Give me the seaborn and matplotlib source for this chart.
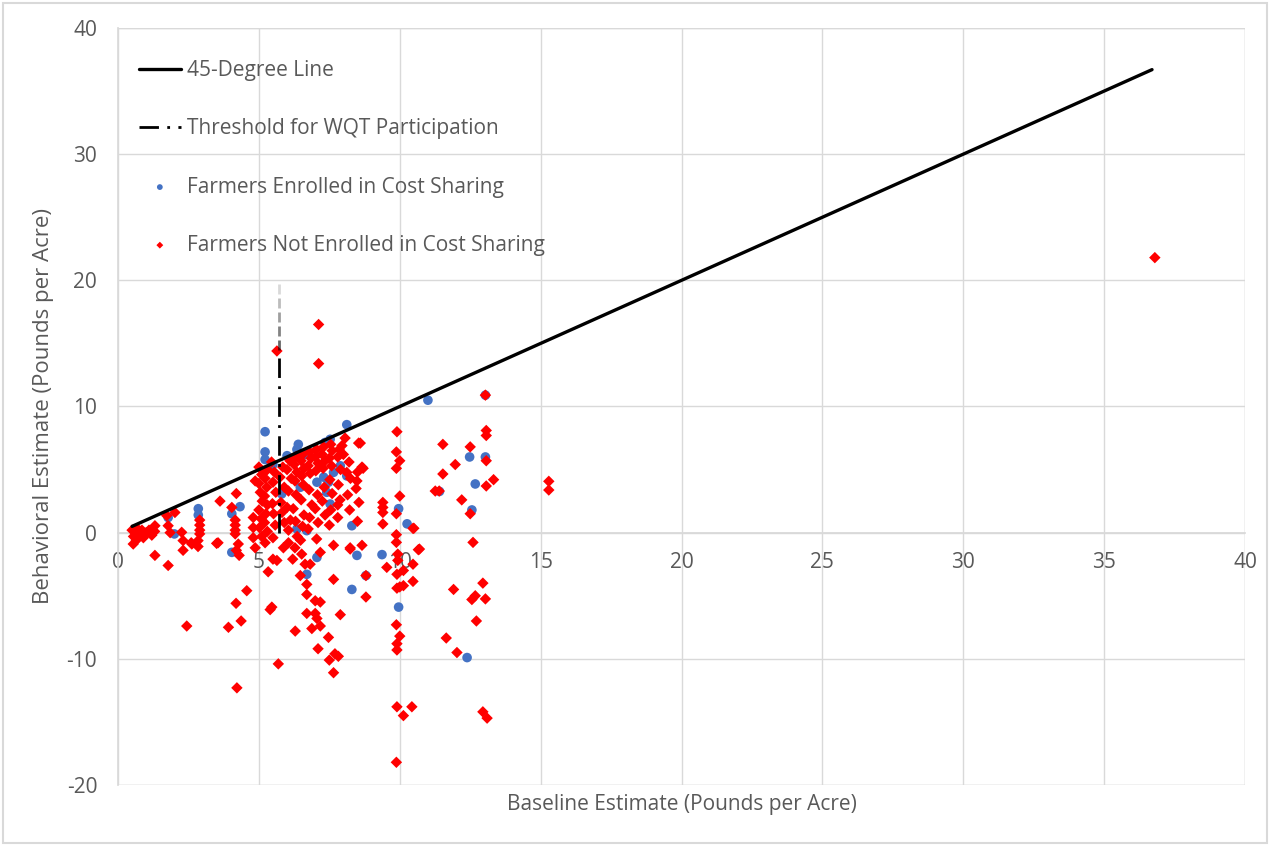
import numpy as np
import pandas as pd
import matplotlib
matplotlib.use("Agg")
import matplotlib.pyplot as plt
import seaborn as sns

# ---------------- data ----------------
enrolled_x = [1.78, 2.0, 2.85, 2.85, 4.04, 4.33, 4.04, 5.22, 5.22, 5.22, 6.0, 6.4, 6.64, 6.35,
              7.35, 7.53, 8.12, 7.89, 7.65, 7.47, 7.41, 7.53, 5.81, 8.12, 6.35, 8.3, 6.47, 6.7,
              6.7, 7.06, 8.48, 8.3, 8.8, 9.37, 9.96, 9.96, 10.26, 11.0, 13.04, 11.41, 12.48,
              12.68, 12.56, 13.04, 12.39, 7.06, 7.3, 5.5]
enrolled_y = [1.2, -0.1, 1.9, 1.4, 1.5, 2.06, -1.56, 8.0, 6.4, 5.8, 6.1, 7.0, 6.2, 6.6,
              7.15, 7.4, 8.56, 5.3, 4.78, 4.0, 3.2, 2.27, 3.07, 4.5, 0.29, 0.55, 3.6, -3.3,
              0.16, -1.96, -1.8, -4.5, -3.4, -1.74, 1.9, -5.9, 0.7, 10.5, 10.9, 3.27, 6.0,
              3.86, 1.8, 6.0, -9.9, 4.0, 4.4, 5.4]

# not enrolled: scattered points
not_enrolled_x = [0.5, 0.55, 0.6, 0.65, 0.7, 0.8, 0.85, 0.9, 1.0, 1.1, 1.2, 1.3, 0.54, 1.31, 1.73,
                  2.02, 1.78, 1.85, 2.26, 2.31, 2.62, 2.84, 2.9, 2.9, 2.9, 2.9, 3.55, 3.62, 4.2,
                  4.04, 4.16, 4.16, 4.16, 4.16, 4.27, 4.87, 4.8, 4.8, 4.8, 4.87,
                  1.31, 1.78, 2.31, 2.6, 2.84, 3.5, 2.44, 3.92, 4.19, 4.37, 4.57, 4.22, 4.2, 4.3,
                  5.33, 5.64, 5.46, 5.4, 5.69, 6.2, 6.29, 6.47, 6.7, 6.7, 6.7, 6.88, 7.0, 7.18,
                  7.0, 7.06, 7.18, 7.1, 7.47, 7.5, 7.7, 7.82, 7.65, 7.89, 7.65, 8.8, 8.8, 9.54,
                  9.9, 9.9, 9.88, 10.0, 9.9, 9.9, 9.9, 10.13, 10.43, 9.88, 10.47, 10.13, 10.66,
                  8.24, 8.66, 5.87, 5.5, 6.05, 6.28, 6.52, 6.64, 6.82, 7.18, 7.65,
                  9.9, 9.88, 10.0, 9.88, 10.0, 9.88, 10.47, 9.88, 9.88, 9.93, 9.93, 10.47, 10.13,
                  10.0, 9.4, 9.4, 9.4, 9.4, 8.6, 8.7, 11.53, 11.53, 11.26, 11.97, 12.2, 12.5,
                  12.5, 13.07, 13.07, 13.07, 13.07, 13.33, 13.04, 12.6, 11.91, 12.56, 12.68,
                  12.95, 13.04, 12.72, 11.65, 12.03, 12.95, 13.1, 15.29, 15.29, 36.8, 7.12, 5.64,
                  7.12, 8.06, 8.54, 7.95, 8.0, 8.12, 8.66, 8.48, 7.8, 10.5, 10.7, 8.24, 11.4]
not_enrolled_y = [0.2, -0.3, 0.1, -0.6, 0.3, -0.1, 0.2, -0.4, 0.0, 0.2, -0.2, 0.1, -0.9, 0.55, 1.35,
                  1.6, 0.55, 0.0, 0.03, -0.63, -0.9, -0.63, 1.0, 0.6, 0.2, -0.1, -0.8, 2.5, 3.1,
                  2.0, 1.0, 0.6, 0.2, -0.1, -0.9, 4.1, 1.2, 0.4, -0.4, -1.2,
                  -1.8, -2.6, -1.4, -0.8, -1.1, -0.85, -7.4, -7.5, -5.6, -7.0, -4.6, -12.3, -1.4, -1.8,
                  -3.1, -2.2, -5.9, -6.1, -10.4, -2.1, -7.8, -3.4, -4.1, -4.9, -6.4, -7.6, -5.4, -5.5,
                  -6.4, -6.8, -7.4, -9.2, -8.3, -10.1, -9.6, -9.8, -11.1, -6.5, -3.7, -3.4, -5.1, -2.75,
                  -3.3, -4.4, -7.3, -8.2, -8.8, -9.3, -13.8, -14.5, -13.8, -18.2, -3.86, -4.2, -1.35,
                  -1.2, -1.0, -1.2, -2.1, -0.8, -1.2, -1.7, -2.5, -2.5, -1.56, -1.0,
                  8.0, 6.4, 5.7, 5.1, 2.9, 1.5, 0.34, -0.16, -0.77, -1.7, -2.2, -2.5, -3.0,
                  -4.3, 2.4, 2.0, 1.6, 0.69, 7.1, 5.1, 7.0, 4.65, 3.3, 5.4, 2.6, 6.8,
                  1.5, 8.1, 7.7, 5.7, 3.7, 4.2, 10.9, -0.77, -4.5, -5.3, -5.0,
                  -4.0, -5.25, -7.0, -8.35, -9.5, -14.2, -14.7, 4.07, 3.38, 21.8, 16.5, 14.4,
                  13.4, 7.5, 7.1, 6.9, 6.2, 4.78, 5.2, 4.1, 2.2, 0.35, -1.3, -1.3, 3.3]

# not enrolled: dense cluster between x=5 and x=8.5, read column by column
cluster_x = [5.0, 5.1, 5.0, 5.05, 5.12, 5.0, 5.08, 5.02, 5.1,
             5.3, 5.22, 5.28, 5.2, 5.3, 5.25, 5.2, 5.3, 5.22,
             5.45, 5.55, 5.5, 5.6, 5.48, 5.52, 5.58, 5.5,
             5.85, 5.75, 5.9, 5.78, 5.82, 5.9,
             6.1, 6.0, 6.15, 6.05, 6.0, 6.12, 6.05,
             6.3, 6.25, 6.35, 6.28, 6.32, 6.22, 6.3, 6.36,
             6.55, 6.5, 6.6, 6.52, 6.58, 6.5, 6.6, 6.55, 6.48,
             6.8, 6.85, 6.75, 6.82, 6.78, 6.88, 6.8, 6.75,
             7.05, 7.0, 7.1, 7.02, 7.08, 7.0, 7.1, 7.05,
             7.3, 7.25, 7.35, 7.28, 7.32, 7.25, 7.35,
             7.55, 7.6, 7.5, 7.58, 7.52, 7.6, 7.55, 7.5,
             7.85, 7.8, 7.9, 7.82, 7.88, 7.8,
             8.2, 8.25, 8.15, 8.22,
             8.5, 8.45, 8.55, 8.5]
cluster_y = [5.2, 4.6, 3.9, 3.2, 2.5, 1.8, 1.1, 0.4, -0.3,
             5.0, 4.3, 3.6, 2.9, 2.2, 1.5, 0.8, 0.1, -0.8,
             5.6, 4.8, 4.0, 3.2, 2.3, 1.5, 0.6, -0.4,
             5.2, 4.4, 3.6, 2.4, 1.6, 0.8,
             5.7, 5.0, 4.3, 3.3, 2.0, 1.0, 0.2,
             6.0, 5.4, 4.8, 4.1, 3.0, 1.9, 0.9, -0.3,
             6.2, 5.7, 5.1, 4.5, 3.8, 2.6, 1.4, 0.5, -0.6,
             6.4, 5.9, 5.3, 4.7, 3.4, 2.2, 1.2, 0.3,
             6.6, 6.0, 5.5, 4.9, 3.0, 1.9, 0.8, -0.5,
             6.8, 6.2, 5.7, 5.1, 3.6, 2.5, 1.4,
             7.0, 6.5, 5.9, 5.3, 4.2, 3.1, 1.8, 0.6,
             6.6, 6.0, 5.0, 3.8, 2.6, 1.2,
             5.6, 4.3, 3.0, 1.8,
             4.8, 3.5, 2.4, 0.9]

line45_x = [0.5, 36.7]
line45_y = [0.5, 36.7]
threshold_x = 5.7
threshold_y = [0.0, 20.0]

x_ticks = [0, 5, 10, 15, 20, 25, 30, 35, 40]
y_ticks = [-20, -10, 0, 10, 20, 30, 40]

labels = ["45-Degree Line", "Threshold for WQT Participation",
          "Farmers Enrolled in Cost Sharing", "Farmers Not Enrolled in Cost Sharing"]

# ---------------- figure ----------------
sns.set_theme(style="white")
plt.rcParams['font.family'] = ['Open Sans', 'DejaVu Sans']
plt.rcParams['axes.unicode_minus'] = False
text_col = "#595959"
grid_col = "#D9D9D9"

fig = plt.figure(figsize=(12.7, 8.46), dpi=100)
ax = fig.add_axes([118 / 1270, 1 - 785 / 846, (1245 - 118) / 1270, (785 - 28) / 846])

ax.set_xlim(0, 40)
ax.set_ylim(-20, 40)
ax.set_xticks(x_ticks)
ax.set_yticks(y_ticks)
ax.grid(True, color=grid_col, linewidth=1)
ax.set_axisbelow(True)
for s in ["top", "right"]:
    ax.spines[s].set_visible(False)
ax.spines["left"].set_color(grid_col)
ax.spines["bottom"].set_color(grid_col)
ax.spines["bottom"].set_position(("data", 0))
ax.tick_params(axis="both", length=0, labelsize=15, colors=text_col)
ax.tick_params(axis="x", pad=14)
ax.tick_params(axis="y", pad=15)

# 45-degree line
sns.lineplot(x=line45_x, y=line45_y, ax=ax, color="black", linewidth=2.4,
             label=labels[0], zorder=4)

# threshold line with fading top
ty0, ty1 = threshold_y
fade_start = 14.5
ax.plot([threshold_x, threshold_x], [ty0, fade_start], color="black", linewidth=2,
        linestyle=(0, (7, 3, 1, 3)), zorder=4, label=labels[1])
nseg = 5
edges = np.linspace(fade_start, ty1, nseg + 1)
for i in range(nseg):
    a = 0.6 - 0.45 * i / (nseg - 1)
    ax.plot([threshold_x, threshold_x], [edges[i], edges[i + 1] - 0.3], color="black", alpha=a,
            linewidth=2, zorder=4, solid_capstyle="butt")

df_en = pd.DataFrame({"x": enrolled_x, "y": enrolled_y})
df_ne = pd.DataFrame({"x": not_enrolled_x + cluster_x, "y": not_enrolled_y + cluster_y})

sns.scatterplot(data=df_en, x="x", y="y", ax=ax, color="#4472C4", marker="o", s=48,
                edgecolor="none", label=labels[2], zorder=3)
sns.scatterplot(data=df_ne, x="x", y="y", ax=ax, color="#FF0000", marker="D", s=34,
                edgecolor="none", label=labels[3], zorder=3.5)

# frame lines at the plot edges
ax.axhline(40, color=grid_col, linewidth=1, zorder=0)
ax.axvline(40, color=grid_col, linewidth=1, zorder=0)
ax.axhline(-20, color=grid_col, linewidth=1, zorder=0)

ax.set_xlabel("Baseline Estimate (Pounds per Acre)", fontsize=15, color=text_col)
ax.set_ylabel("Behavioral Estimate (Pounds per Acre)", fontsize=16, color=text_col)
ax.xaxis.set_label_coords(0.5, -0.012)
ax.yaxis.set_label_coords(-0.057, 0.5)

handles, labs = ax.get_legend_handles_labels()
order = [labs.index(l) for l in labels]
leg = ax.legend([handles[i] for i in order], [labs[i] for i in order], loc="upper left",
                bbox_to_anchor=(0.002, 0.982), frameon=False, fontsize=15, labelspacing=1.78,
                handlelength=2.0, handletextpad=0.3, markerscale=0.6)
for t in leg.get_texts():
    t.set_color(text_col)

# outer chart border
fig.patches.append(plt.Rectangle((0.002, 0.003), 0.996, 0.994, transform=fig.transFigure,
                                 fill=False, edgecolor="#D9D9D9", linewidth=1.5))

fig.savefig("out.png", dpi=100)
